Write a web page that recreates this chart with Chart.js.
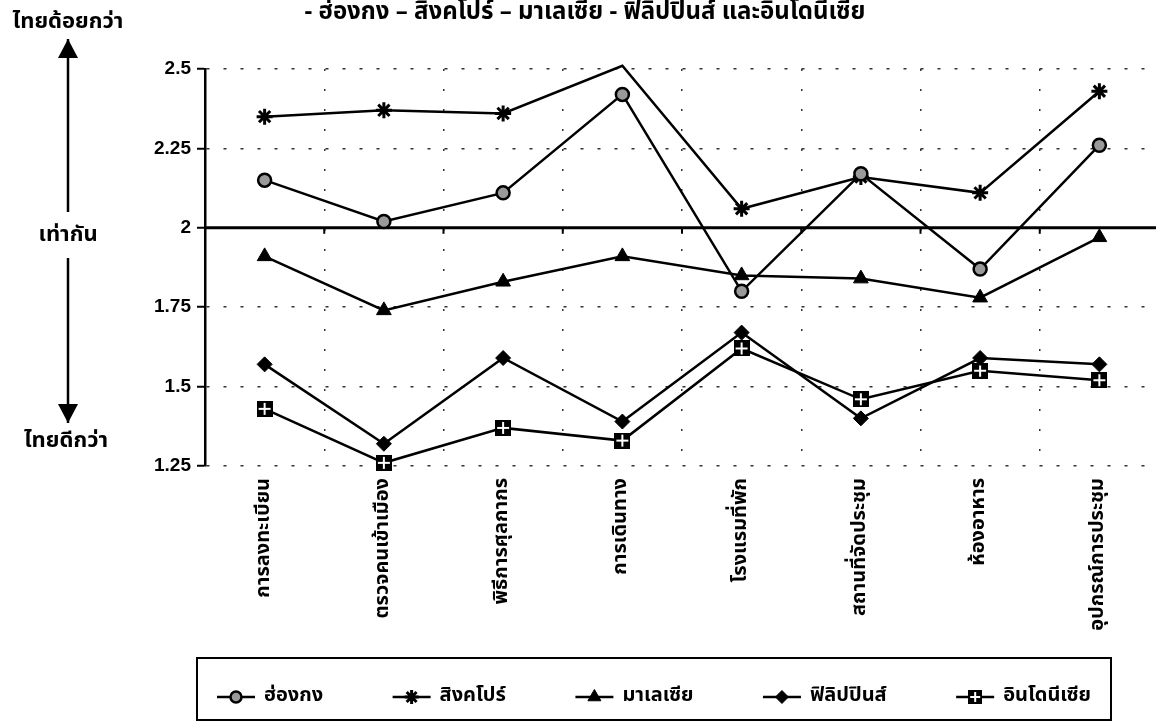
<!DOCTYPE html>
<html><head><meta charset="utf-8">
<script src="https://cdn.jsdelivr.net/npm/chart.js@4.4.0/dist/chart.umd.min.js"></script>
<style>
html,body{margin:0;padding:0;background:#fff;overflow:hidden;width:1156px;height:722px}
#wrap{position:absolute;left:0;top:0;width:1170px;height:722px}
</style></head>
<body><div id="wrap"><canvas id="c"></canvas></div>
<script>
// ---- data ----
const categories = ['การลงทะเบียน','ตรวจคนเข้าเมือง','พิธีการศุลกากร','การเดินทาง','โรงแรมที่พัก','สถานที่จัดประชุม','ห้องอาหาร','อุปกรณ์การประชุม'];
const seriesNames = ['ฮ่องกง','สิงคโปร์','มาเลเซีย','ฟิลิปปินส์','อินโดนีเซีย'];
const hongKong    = [2.15, 2.02, 2.11, 2.42, 1.80, 2.17, 1.87, 2.26];
const singapore   = [2.35, 2.37, 2.36, 2.51, 2.06, 2.16, 2.11, 2.43];
const malaysia    = [1.91, 1.74, 1.83, 1.91, 1.85, 1.84, 1.78, 1.97];
const philippines = [1.57, 1.32, 1.59, 1.39, 1.67, 1.40, 1.59, 1.57];
const indonesia   = [1.43, 1.26, 1.37, 1.33, 1.62, 1.46, 1.55, 1.52];
const yTicks = [1.25, 1.5, 1.75, 2, 2.25, 2.5];
const Y_MIN = 1.25, Y_MAX = 2.5, EQUAL = 2;
const titleText = '- ฮ่องกง – สิงคโปร์ – มาเลเซีย - ฟิลิปปินส์ และอินโดนีเซีย';
const worseLabel = 'ไทยด้อยกว่า', equalLabel = 'เท่ากัน', betterLabel = 'ไทยดีกว่า';

// ---- styles ----
const THAI = '"Noto Sans Thai","Noto Sans","DejaVu Sans",sans-serif';
function boxCross(size){
  const c = document.createElement('canvas'); c.width = c.height = size;
  const g = c.getContext('2d');
  g.fillStyle = '#000'; g.fillRect(0,0,size,size);
  g.strokeStyle = '#fff'; g.lineWidth = 2;
  g.beginPath(); g.moveTo(size/2,2); g.lineTo(size/2,size-2); g.moveTo(2,size/2); g.lineTo(size-2,size/2); g.stroke();
  return c;
}
const sqImg = boxCross(16);
const sqImgSmall = boxCross(14);
const styles = [
  {pointStyle:'circle',  pointRadius:6.5, bg:'#9a9a9a', bw:2.5},
  {pointStyle:'star',    pointRadius:8,   bg:'#000',    bw:3},
  {pointStyle:'triangle',pointRadius:8.5, bg:'#000',    bw:1},
  {pointStyle:'rectRot', pointRadius:7.5, bg:'#000',    bw:1},
  {pointStyle:sqImg,     pointRadius:8,   bg:'#000',    bw:1, legendImg:sqImgSmall}
];
const seriesData = [hongKong, singapore, malaysia, philippines, indonesia];

const datasets = seriesData.map((d,i)=>({
  label: seriesNames[i],
  data: d,
  borderColor:'#000',
  borderWidth:2.5,
  tension:0,
  clip:false,
  pointStyle: styles[i].pointStyle,
  pointRadius: ctx => (ctx.raw > Y_MAX ? 0 : styles[i].pointRadius),
  pointHoverRadius: styles[i].pointRadius,
  pointBackgroundColor: styles[i].bg,
  pointBorderColor:'#000',
  pointBorderWidth: styles[i].bw
}));

function arrow(ctx, x, y1, y2, tipUp){
  ctx.beginPath(); ctx.moveTo(x,y1); ctx.lineTo(x,y2); ctx.stroke();
  const tip = tipUp ? y1 : y2, base = tipUp ? y1+19 : y2-19;
  ctx.beginPath(); ctx.moveTo(x,tip); ctx.lineTo(x-10,base); ctx.lineTo(x+10,base); ctx.closePath(); ctx.fill();
}

const deco = {
  id:'deco',
  beforeDatasetsDraw(chart){
    const {ctx, chartArea:a, scales:{x,y}} = chart;
    const yy = y.getPixelForValue(EQUAL);
    ctx.save();
    ctx.strokeStyle='#000'; ctx.lineWidth=3;
    ctx.beginPath(); ctx.moveTo(a.left, yy); ctx.lineTo(chart.width, yy); ctx.stroke();
    ctx.lineWidth=2;
    const step = x.getPixelForValue(1)-x.getPixelForValue(0);
    for(let i=1;i<=categories.length;i++){
      const px = x.getPixelForValue(i) - step/2;
      ctx.beginPath(); ctx.moveTo(px, yy); ctx.lineTo(px, yy+6); ctx.stroke();
    }
    ctx.restore();
  },
  afterDraw(chart){
    const {ctx} = chart;
    ctx.save();
    ctx.fillStyle='#000'; ctx.strokeStyle='#000';
    // title
    ctx.font = 'bold 24px '+THAI; ctx.textAlign='center'; ctx.textBaseline='middle';
    ctx.fillText(titleText, 585, 14);
    // side labels and arrows
    ctx.font = 'bold 22px '+THAI;
    ctx.fillText(worseLabel, 68, 24);
    ctx.fillText(equalLabel, 68, 237);
    ctx.fillText(betterLabel, 66, 443);
    ctx.lineWidth = 2.5;
    arrow(ctx, 68, 39, 212, true);
    arrow(ctx, 68, 258, 423, false);
    // legend
    const L = 197, R = 1111, T = 658, B = 720, cy = 697;
    ctx.lineWidth = 2;
    ctx.strokeRect(L, T, R-L, B-T);
    ctx.font = 'bold 20px '+THAI; ctx.textAlign='left';
    const lineW = 38, gapT = 9;
    const widths = seriesNames.map(n => lineW + gapT + ctx.measureText(n).width);
    const total = widths.reduce((s,w)=>s+w,0);
    const pad = 20;
    const gap = (R-L-2*pad-total)/(seriesNames.length-1);
    let xx = L + pad;
    seriesNames.forEach((n,i)=>{
      ctx.lineWidth = 2.5;
      ctx.beginPath(); ctx.moveTo(xx, cy); ctx.lineTo(xx+lineW, cy); ctx.stroke();
      const st = styles[i];
      ctx.fillStyle = st.bg; ctx.lineWidth = st.bw;
      Chart.helpers.drawPoint(ctx, {pointStyle: st.legendImg || st.pointStyle, radius: st.pointRadius-1, rotation:0, borderWidth: st.bw}, xx+lineW/2, cy);
      ctx.fillStyle='#000';
      ctx.fillText(n, xx+lineW+gapT, cy);
      xx += widths[i] + gap;
    });
    ctx.restore();
  }
};

new Chart(document.getElementById('c'), {
  type:'line',
  data:{labels:categories, datasets},
  plugins:[deco],
  options:{
    responsive:true, maintainAspectRatio:false, animation:false, devicePixelRatio:1,
    layout:{padding:{top:69, right:8, left:0, bottom:0}},
    plugins:{legend:{display:false}, title:{display:false}, tooltip:{enabled:false}},
    scales:{
      x:{
        offset:true,
        afterFit: s => { s.height = 722 - 466; },
        grid:{offset:true, color:'#333', lineWidth:1.5, drawTicks:false},
        border:{display:false, dash:[2,18]},
        ticks:{color:'#000', minRotation:90, maxRotation:90, padding:12, autoSkip:false,
               font:{family:THAI, size:20, weight:'bold'}}
      },
      y:{
        min:Y_MIN, max:Y_MAX,
        afterFit: s => { s.width = 205; },
        afterBuildTicks: s => { s.ticks = yTicks.map(v=>({value:v})); },
        grid:{color: c => (c.tick && c.tick.value === EQUAL ? 'rgba(0,0,0,0)' : '#333'), lineWidth:1.5,
              tickColor:'#000', tickLength:8, tickWidth:2},
        border:{display:true, color:'#000', width:2.5, dash:[3,14]},
        ticks:{color:'#000', padding:6, callback: v => String(v),
               font:{family:'"Liberation Sans",Arial,sans-serif', size:19, weight:'bold'}}
      }
    }
  }
});
</script>
</body></html>
